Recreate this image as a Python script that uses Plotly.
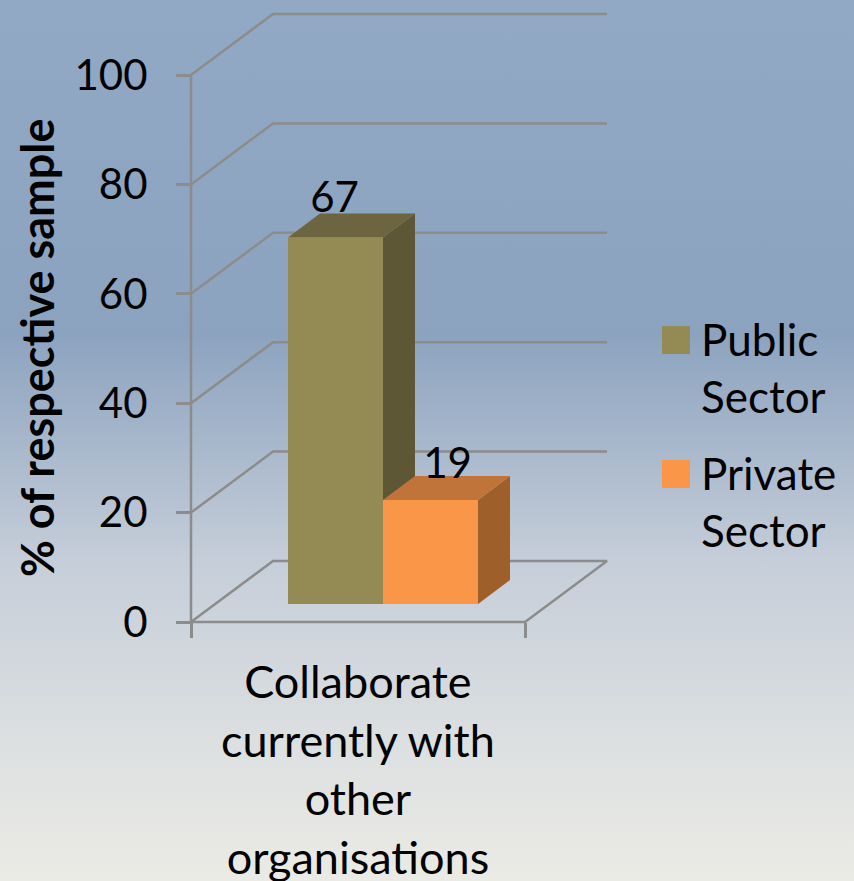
import plotly.graph_objects as go

# ---- data ----
categories = ["Collaborate<br>currently with<br>other<br>organisations"]
series_names = ["Public<br>Sector", "Private<br>Sector"]
public_values = [67]
private_values = [19]
y_ticks = [0, 20, 40, 60, 80, 100]

# ---- layout constants (x axis runs in screen-like units 0..854) ----
W, H = 854, 881
Y0_PX, UNIT = 622, 5.47          # pixel row of value 0, px per value unit
def yu(px):                      # length in px -> value units
    return px / UNIT
FLOOR_L, FLOOR_R = 191, 525
WALL_DX, WALL_DY = 82, yu(61)
BAR_L, BAR_W = 288, 95
BAR_BASE = yu(18)
DEPTH_DX, DEPTH_DY = 32, yu(24)
LABEL_DX = [-1, 17]
LABEL_DY = [36, 33]
GRID = "#8c8c8c"
LW = 2.5
COLORS = [dict(front="#948A54", top="#6D653F", side="#5E5736"),
          dict(front="#F99647", top="#C1743A", side="#9E5F2B")]
FONT = "Lato, Carlito, sans-serif"
TXT = "#000000"

fig = go.Figure()

# background gradient
fig.add_trace(go.Scatter(
    x=[0, W, W, 0, 0], y=[(Y0_PX - H) / UNIT, (Y0_PX - H) / UNIT, Y0_PX / UNIT, Y0_PX / UNIT, (Y0_PX - H) / UNIT],
    mode="none", fill="toself", showlegend=False, hoverinfo="skip",
    fillgradient=dict(type="vertical", colorscale=[
        [0.0, "#EBEBE5"], [0.14, "#DEE1E1"], [0.36, "#C6CED9"], [0.62, "#8CA3BF"], [1.0, "#92A9C5"]]),
))

# walls / gridlines
for t in y_ticks[1:]:
    fig.add_trace(go.Scatter(
        x=[FLOOR_L, FLOOR_L + WALL_DX, FLOOR_L + WALL_DX + (FLOOR_R - FLOOR_L)],
        y=[t, t + WALL_DY, t + WALL_DY],
        mode="lines", line=dict(color=GRID, width=LW), showlegend=False, hoverinfo="skip"))
# floor and left upright
fig.add_trace(go.Scatter(
    x=[FLOOR_L, FLOOR_L + WALL_DX, FLOOR_R + WALL_DX, FLOOR_R, FLOOR_L],
    y=[0, WALL_DY, WALL_DY, 0, 0],
    mode="lines", line=dict(color=GRID, width=LW), showlegend=False, hoverinfo="skip"))
fig.add_trace(go.Scatter(
    x=[FLOOR_L, FLOOR_L], y=[0, y_ticks[-1]],
    mode="lines", line=dict(color=GRID, width=LW), showlegend=False, hoverinfo="skip"))

# 3-D bars
for i, (vals, name) in enumerate(zip([public_values, private_values], series_names)):
    v = vals[0]
    l, r = BAR_L + i * BAR_W, BAR_L + (i + 1) * BAR_W
    b, t = BAR_BASE, BAR_BASE + v
    c = COLORS[i]
    fig.add_trace(go.Scatter(
        x=[r, r + DEPTH_DX, r + DEPTH_DX, r, r], y=[b, b + DEPTH_DY, t + DEPTH_DY, t, b],
        mode="lines", line=dict(width=0), fill="toself", fillcolor=c["side"],
        showlegend=False, hoverinfo="skip"))
    fig.add_trace(go.Scatter(
        x=[l, r, r + DEPTH_DX, l + DEPTH_DX, l], y=[t, t, t + DEPTH_DY, t + DEPTH_DY, t],
        mode="lines", line=dict(width=0), fill="toself", fillcolor=c["top"],
        showlegend=False, hoverinfo="skip"))
    fig.add_trace(go.Scatter(
        x=[l, r, r, l, l], y=[b, b, t, t, b],
        mode="lines", line=dict(width=0), fill="toself", fillcolor=c["front"],
        showlegend=False, name=name.replace("<br>", " ")))
    # value label
    fig.add_trace(go.Scatter(
        x=[(l + r) / 2 + LABEL_DX[i]], y=[t + yu(LABEL_DY[i])], mode="text", text=[str(v)],
        textposition="middle center", textfont=dict(family=FONT, size=42, color=TXT),
        showlegend=False, hoverinfo="skip"))

# legend (swatches + wrapped labels)
LEG_X, LEG_SZ = 676, 28
for i, (name, py) in enumerate(zip(series_names, [340, 474])):
    fig.add_trace(go.Scatter(
        x=[LEG_X], y=[(Y0_PX - py) / UNIT], mode="markers",
        marker=dict(symbol="square", size=LEG_SZ, color=COLORS[i]["front"], line=dict(width=0)),
        showlegend=False, hoverinfo="skip"))
    fig.add_annotation(
        x=699, y=(Y0_PX - (py + 27)) / UNIT, xref="x", yref="y", xanchor="left", yanchor="middle",
        text=name, showarrow=False, align="left",
        font=dict(family=FONT, size=44, color=TXT))

# category label
fig.add_annotation(
    x=(FLOOR_L + FLOOR_R) / 2, y=(Y0_PX - 769) / UNIT, xref="x", yref="y",
    text=categories[0], showarrow=False, align="center", xanchor="center", yanchor="middle",
    font=dict(family=FONT, size=45, color=TXT))

# y-axis title
fig.add_annotation(
    x=37, y=(Y0_PX - 348) / UNIT, xref="x", yref="y", textangle=-90,
    text="<b>% of respective sample</b>", showarrow=False, xanchor="center", yanchor="middle",
    font=dict(family=FONT, size=45, color=TXT))

fig.update_layout(
    width=W, height=H, margin=dict(l=0, r=0, t=0, b=0),
    paper_bgcolor="#B4C0CF", plot_bgcolor="rgba(0,0,0,0)", showlegend=False,
    xaxis=dict(range=[0, W], domain=[0, 1], showgrid=False, zeroline=False, showline=False,
               anchor="free", position=(H - Y0_PX) / H, side="bottom",
               tickmode="array", tickvals=[FLOOR_L, FLOOR_R], ticktext=["", ""],
               ticks="outside", ticklen=15, tickwidth=LW, tickcolor=GRID, fixedrange=True),
    yaxis=dict(range=[(Y0_PX - H) / UNIT, Y0_PX / UNIT], domain=[0, 1], showgrid=False, zeroline=False,
               showline=False, anchor="free", position=FLOOR_L / W, side="left",
               tickmode="array", tickvals=y_ticks, ticks="outside", ticklen=15, tickwidth=LW,
               tickcolor=GRID, ticklabelstandoff=20,
               tickfont=dict(family=FONT, size=42, color=TXT), fixedrange=True),
)
fig.write_html("out.html", config={"displayModeBar": False},
               post_script="document.body.style.margin='0';")
